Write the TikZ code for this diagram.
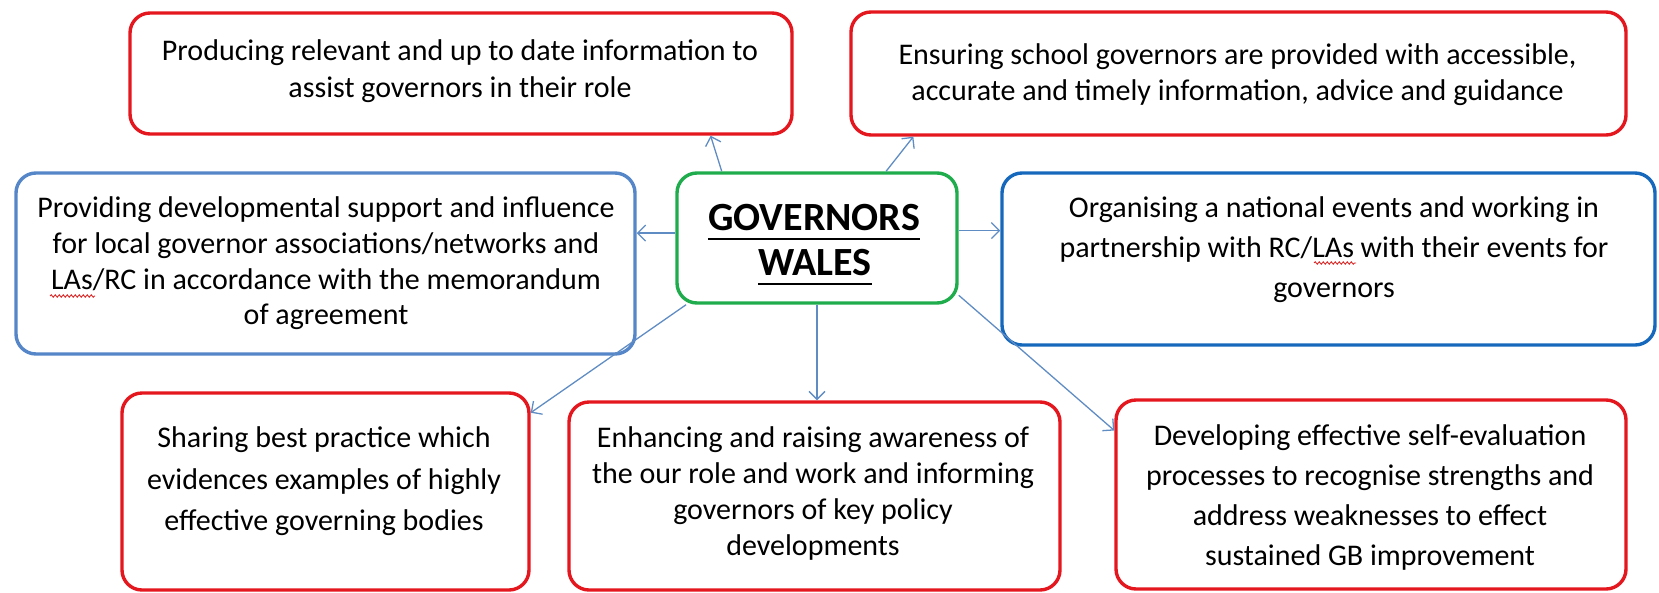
\documentclass[tikz,border=0pt]{standalone}
\usepackage{fontspec}
\setmainfont{Carlito}
\usetikzlibrary{arrows.meta,calc,decorations.pathmorphing}
\definecolor{boxred}{RGB}{228,22,30}
\definecolor{lightblue}{RGB}{84,134,200}
\definecolor{darkblue}{RGB}{22,104,188}
\definecolor{boxgreen}{RGB}{30,172,76}
\definecolor{arrowblue}{RGB}{96,140,196}
\definecolor{spellred}{RGB}{220,40,40}
\begin{document}
\begin{tikzpicture}[x=1pt,y=-1pt,
  box/.style={draw, rounded corners=20pt, line width=3.4pt, inner sep=0pt},
  redbox/.style={box, draw=boxred},
  lbluebox/.style={box, draw=lightblue},
  dbluebox/.style={box, draw=darkblue},
  greenbox/.style={box, draw=boxgreen},
  txt/.style={align=center, inner sep=0pt, font=\fontsize{30}{#1}\selectfont},
  title/.style={inner sep=0pt, font=\fontsize{40}{48}\selectfont\bfseries},
  squiggle/.style={draw=spellred, line width=0.9pt, decorate, decoration={snake, amplitude=1.2pt, segment length=4pt}},
  arr/.style={draw=arrowblue, line width=1.3pt, -{Straight Barb[length=8pt,width=16pt]}}]
\useasboundingbox (0,0) rectangle (1659,592);
% boxes
\node[redbox, minimum width=662pt, minimum height=121pt] (a) at (461,73.5) {};
\node[redbox, minimum width=775pt, minimum height=123pt] (b) at (1238.5,73.5) {};
\node[lbluebox, minimum width=619pt, minimum height=181pt] (c) at (325.5,263.5) {};
\node[greenbox, minimum width=280pt, minimum height=130pt] (g) at (817,238) {};
\node[dbluebox, minimum width=653pt, minimum height=172pt] (d) at (1328.5,259) {};
\node[redbox, minimum width=407pt, minimum height=197pt] (e) at (325.5,491.5) {};
\node[redbox, minimum width=491pt, minimum height=188pt] (f) at (814.5,496) {};
\node[redbox, minimum width=510pt, minimum height=189pt] (h) at (1371,494.5) {};
% texts
\node[txt=37] (ta) at (460,71.5) {Producing relevant and up to date information to\\assist governors in their role};
\node[txt=36] (tb) at (1237.5,75) {Ensuring school governors are provided with accessible,\\accurate and timely information, advice and guidance};
\node[txt=35.7] (tc) at (326,263.5) {Providing developmental support and influence\\for local governor associations/networks and\\LAs/RC in accordance with the memorandum\\of agreement};
\node[txt=40] (td) at (1334,250) {Organising a national events and working in\\partnership with RC/LAs with their events for\\governors};
\node[txt=41.5] (te) at (324,481.5) {Sharing best practice which\\evidences examples of highly\\effective governing bodies};
\node[txt=35.7] (tf) at (813,493.5) {Enhancing and raising awareness of\\the our role and work and informing\\governors of key policy\\developments};
\node[txt=40.3] (th) at (1370,497.5) {Developing effective self-evaluation\\processes to recognise strengths and\\address weaknesses to effect\\sustained GB improvement};
% spell-check marks under "LAs"
\path[squiggle] (50,296) -- (95,296);
\path[squiggle] (1314,263) -- (1356,263);
% title
\node[title] (g1) at (814,218) {GOVERNORS};
\node[title] (g2) at (815,263) {WALES};
\draw[line width=2.6pt] ([yshift=-8pt]g1.base west) -- ([yshift=-8pt]g1.base east);
\draw[line width=2.6pt] ([yshift=-8pt]g2.base west) -- ([yshift=-8pt]g2.base east);
% arrows
\draw[arr] (g.145.3) -- (a.-14.7);
\draw[arr] (g.44.6) -- (b.-169.17);
\draw[arr] (g.178) -- (g.178 -| c.east);
\draw[arr] (g.3.3) -- (g.3.3 -| d.west);
\draw[arr] (g.-153.3) -- (e.21.15);
\draw[arr] (g.south) -- (g.south |- f.north);
\draw[arr] (g.-22.1) -- (h.166.2);
\end{tikzpicture}
\end{document}
